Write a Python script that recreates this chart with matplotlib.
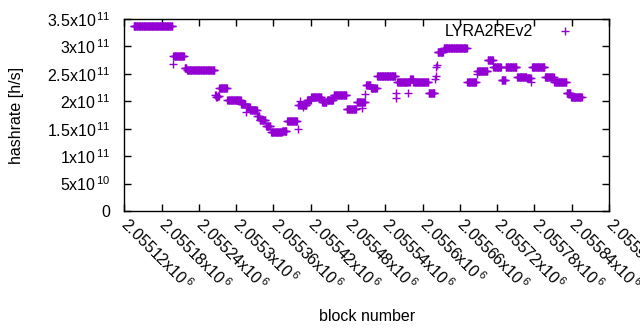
import numpy as np
import matplotlib
matplotlib.use('Agg')
import matplotlib.pyplot as plt

plt.rcParams['font.family'] = ['Liberation Sans', 'DejaVu Sans']
plt.rcParams['mathtext.fontset'] = 'custom'
plt.rcParams['mathtext.rm'] = 'Liberation Sans'
plt.rcParams['mathtext.it'] = 'Liberation Sans:italic'
plt.rcParams['mathtext.default'] = 'regular'

# hashrate per block, stored as runs of equal value (x1e11 h/s, number of blocks)
FIRST_BLOCK = 2055135
run_values = [
    3.367, 2.68, 2.82, 2.60, 2.565,
    2.12, 2.08, 2.10, 2.235, 2.016, 1.95,
    1.81, 1.90, 1.84, 1.73, 1.66, 1.55,
    1.435, 1.46, 1.635, 1.49,
    1.93, 2.01, 1.93, 1.89, 1.93,
    2.02, 2.07, 1.98, 2.03, 2.11, 1.855,
    1.98, 1.87, 1.98, 2.13, 2.30, 2.24,
    2.457, 2.145, 2.065,
    2.345, 2.145, 2.345, 2.40, 2.345, 2.147,
    2.40, 2.47, 2.63, 2.66, 2.90, 2.977,
    2.35, 2.49, 2.547, 2.75, 2.625, 2.38, 2.63, 2.45,
    2.42, 2.345, 2.625, 2.45, 2.35, 2.16, 2.07,
]
run_lengths = [
    63, 1, 18, 4, 45,
    2, 2, 3, 13, 22, 8,
    1, 6, 11, 4, 10, 8,
    18, 8, 17, 1,
    2, 1, 5, 1, 5,
    7, 17, 8, 11, 21, 16,
    9, 1, 4, 1, 8, 10,
    30, 1, 1,
    17, 1, 3, 5, 25, 10,
    1, 1, 1, 1, 10, 38,
    15, 1, 17, 9, 13, 7, 18, 16,
    7, 1, 21, 15, 20, 7, 18,
]

x_ticks = [2055120 + 60 * i for i in range(14)]
x_tick_mant = ['2.05512', '2.05518', '2.05524', '2.0553', '2.05536', '2.05542',
               '2.05548', '2.05554', '2.0556', '2.05566', '2.05572', '2.05578',
               '2.05584', '2.0559']
y_ticks = [0, 0.5e11, 1e11, 1.5e11, 2e11, 2.5e11, 3e11, 3.5e11]
y_tick_labels = ['0', r'5x10$^{\,10}$', r'1x10$^{\,11}$', r'1.5x10$^{\,11}$', r'2x10$^{\,11}$',
                 r'2.5x10$^{\,11}$', r'3x10$^{\,11}$', r'3.5x10$^{\,11}$']

PURPLE = '#9400d3'
FS = 11.5


def main():
    hashrate = np.repeat(run_values, run_lengths) * 1e11
    blocks = FIRST_BLOCK + np.arange(len(hashrate))

    fig = plt.figure(figsize=(6.4, 3.3), dpi=100)
    ax = fig.add_axes([0.1942, 0.3606, 0.7574, 0.5818])

    ax.plot(blocks, hashrate, linestyle='none', marker='+', markersize=5.8,
            markeredgewidth=1.0, color=PURPLE, label='LYRA2REv2')

    ax.set_xlim(2055120, 2055900)
    ax.set_ylim(0, 3.5e11)
    ax.set_xticks(x_ticks)
    ax.set_xticklabels([m + r'x10$^{\,6}$' for m in x_tick_mant],
                       rotation=-45, ha='left', va='center', rotation_mode='anchor')
    ax.set_yticks(y_ticks)
    ax.set_yticklabels(y_tick_labels)
    ax.tick_params(direction='in', length=5, width=1, top=True, right=True,
                   labelsize=FS, colors='black')
    ax.tick_params(axis='y', pad=10)
    ax.tick_params(axis='x', pad=7)
    for s in ax.spines.values():
        s.set_linewidth(1)

    ax.set_ylabel('hashrate [h/s]', fontsize=FS, va='center')
    ax.yaxis.set_label_coords(-0.223, 0.5)
    ax.set_xlabel('block number', fontsize=FS, va='center')
    ax.xaxis.set_label_coords(0.5, -0.547)

    ax.legend(loc='upper right', bbox_to_anchor=(0.9416, 0.972), frameon=False,
              markerfirst=False, handlelength=2, handletextpad=1.0,
              borderaxespad=0, borderpad=0, fontsize=FS)

    fig.savefig('out.png', dpi=100)


if __name__ == '__main__':
    main()
